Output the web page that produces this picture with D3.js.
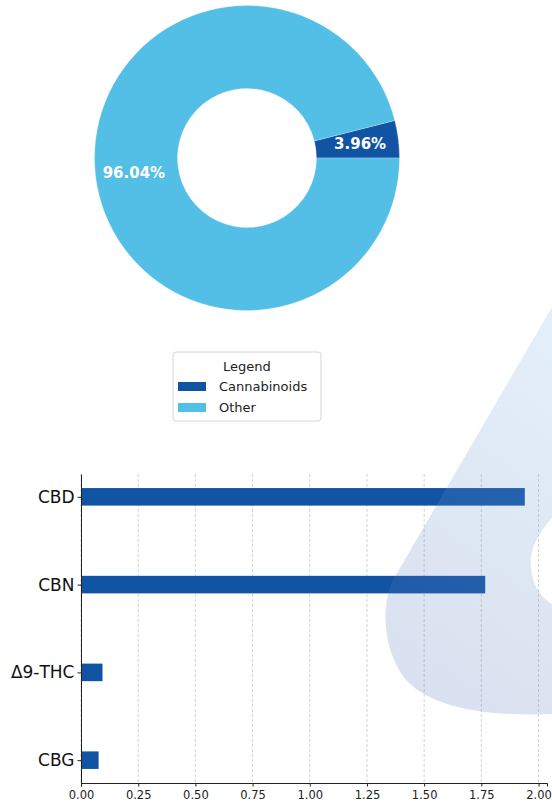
<!DOCTYPE html>
<html>
<head>
<meta charset="utf-8">
<script src="https://cdn.jsdelivr.net/npm/d3@7"></script>
<style>
  body { margin: 0; background: #fff; }
  svg text { font-family: "DejaVu Sans", sans-serif; }
</style>
</head>
<body>
<div id="chart"></div>
<script>
// donut data
var shareLabels = ["Cannabinoids", "Other"];
var shareValues = [3.96, 96.04];
var shareColors = ["#1254a4", "#54bfe6"];

// bar data (bottom to top)
var compounds = ["CBG", "Δ9-THC", "CBN", "CBD"];
var amounts = [0.077, 0.094, 1.767, 1.94];
var xTicks = [0, 0.25, 0.5, 0.75, 1.0, 1.25, 1.5, 1.75, 2.0];

var W = 552, H = 808;

var svg = d3.select("#chart").append("svg")
    .attr("width", W)
    .attr("height", H);

/* ---------- donut ---------- */
var cx = 247, cy = 158, rOuter = 152.5, rInner = 69.5;

var pie = d3.pie()
    .sort(null)
    .startAngle(Math.PI / 2)
    .endAngle(Math.PI / 2 - 2 * Math.PI);

var arc = d3.arc().innerRadius(rInner).outerRadius(rOuter);
var labelArc = d3.arc().innerRadius(114).outerRadius(114);

var slices = pie(shareValues);

var donut = svg.append("g").attr("transform", "translate(" + cx + "," + cy + ")");

donut.selectAll("path")
    .data(slices)
    .enter()
    .append("path")
    .attr("d", arc)
    .attr("fill", function(d, i) { return shareColors[i]; })
    .attr("stroke", "#fff")
    .attr("stroke-opacity", 0.4)
    .attr("stroke-width", 0.6);

donut.selectAll("text")
    .data(slices)
    .enter()
    .append("text")
    .attr("transform", function(d) { return "translate(" + labelArc.centroid(d) + ")"; })
    .attr("text-anchor", "middle")
    .attr("dy", "0.36em")
    .attr("fill", "#fff")
    .attr("font-weight", "bold")
    .attr("font-size", "15px")
    .text(function(d) { return d.data.toFixed(2) + "%"; });

/* ---------- legend ---------- */
var legend = svg.append("g").attr("transform", "translate(173,352)");

legend.append("rect")
    .attr("width", 148)
    .attr("height", 69)
    .attr("rx", 3)
    .attr("fill", "#fff")
    .attr("stroke", "#d6d6d6");

legend.append("text")
    .attr("x", 74)
    .attr("y", 19)
    .attr("text-anchor", "middle")
    .attr("font-size", "13px")
    .attr("fill", "#222")
    .text("Legend");

legend.selectAll(".item")
    .data(shareLabels)
    .enter()
    .append("g")
    .attr("class", "item")
    .attr("transform", function(d, i) { return "translate(0," + (30 + i * 21) + ")"; })
    .each(function(d, i) {
      d3.select(this).append("rect")
        .attr("x", 5).attr("width", 28).attr("height", 9)
        .attr("fill", shareColors[i]);
      d3.select(this).append("text")
        .attr("x", 46).attr("y", 9)
        .attr("font-size", "13px")
        .attr("fill", "#222")
        .text(d);
    });

/* ---------- bar chart ---------- */
var xScale = d3.scaleLinear().domain([0, 2.037]).range([81, 547]);
var yScale = d3.scaleLinear().domain([-0.26, 3.26]).range([783, 474]);
var barH = 0.2;

// grid
svg.append("g")
    .selectAll("line")
    .data(xTicks)
    .enter()
    .append("line")
    .attr("x1", function(d) { return xScale(d); })
    .attr("x2", function(d) { return xScale(d); })
    .attr("y1", yScale(3.26))
    .attr("y2", yScale(-0.26))
    .attr("stroke", "#b0b0b0")
    .attr("stroke-opacity", 0.7)
    .attr("stroke-width", 0.8)
    .attr("stroke-dasharray", "3,2");

svg.append("g")
    .selectAll("rect")
    .data(amounts)
    .enter()
    .append("rect")
    .attr("x", xScale(0))
    .attr("y", function(d, i) { return yScale(i + barH / 2); })
    .attr("width", function(d) { return xScale(d) - xScale(0); })
    .attr("height", function(d, i) { return yScale(i - barH / 2) - yScale(i + barH / 2); })
    .attr("fill", "#1254a4");

// axes
var xAxis = svg.append("g")
    .attr("transform", "translate(0," + yScale(-0.26) + ")")
    .call(d3.axisBottom(xScale).tickValues(xTicks).tickFormat(d3.format(".2f")).tickSize(3.5).tickPadding(4));
xAxis.select(".domain").attr("stroke", "#222");
xAxis.selectAll(".tick line").attr("stroke", "#222");
xAxis.selectAll("text").attr("font-size", "11.5px").attr("fill", "#222");

var yAxis = svg.append("g")
    .attr("transform", "translate(" + xScale(0) + ",0)")
    .call(d3.axisLeft(yScale).tickValues(d3.range(compounds.length))
      .tickFormat(function(d) { return compounds[d]; }).tickSize(3.5).tickPadding(3).tickSizeOuter(0));
yAxis.select(".domain").attr("stroke", "#222");
yAxis.selectAll(".tick line").attr("stroke", "#222");
yAxis.selectAll("text").attr("font-size", "17px").attr("fill", "#111");

/* ---------- watermark ---------- */
var defs = svg.append("defs");
var grad = defs.append("linearGradient")
    .attr("id", "wm")
    .attr("x1", "0.6").attr("y1", "0").attr("x2", "0.3").attr("y2", "1");
grad.append("stop").attr("offset", "0").attr("stop-color", "rgb(121,176,224)");
grad.append("stop").attr("offset", "1").attr("stop-color", "rgb(78,108,180)");

svg.append("path")
    .attr("d", "M552,307 L393,580 C381,605 382,650 406,680 C436,712 500,716 552,714 L552,604 C538,596 529,578 531,556 C534,540 543,528 552,518 Z")
    .attr("fill", "url(#wm)")
    .attr("fill-opacity", 0.21);
</script>
</body>
</html>
